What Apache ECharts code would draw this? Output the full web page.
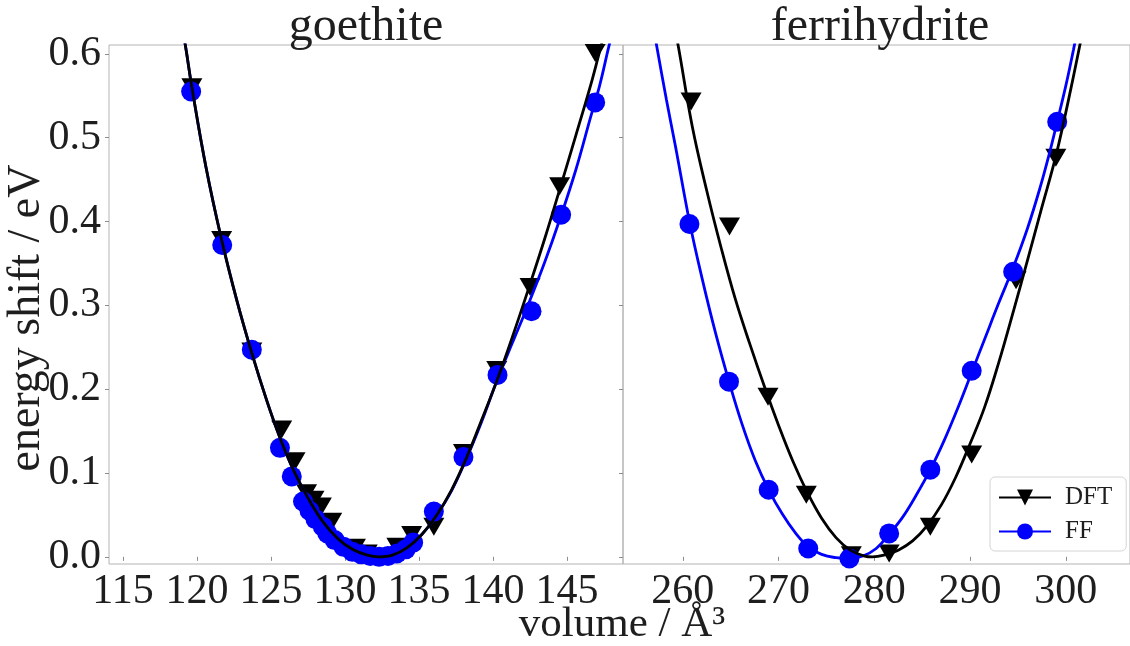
<!DOCTYPE html>
<html>
<head>
<meta charset="utf-8">
<script src="https://cdn.jsdelivr.net/npm/echarts@6/dist/echarts.min.js"></script>
<style>
  html, body { margin: 0; padding: 0; background: #fff; }
  #chart { width: 1130px; height: 646px; }
</style>
</head>
<body>
<div id="chart"></div>
<script>
// ---- goethite: computed points (volume / Å^3, energy shift / eV) ----
const goeDftV = [119.65, 121.66, 123.7, 125.72, 126.62, 127.4, 127.9, 128.4, 129.1, 130.7, 131.5, 132.3, 133.5, 134.5, 136.0, 138.0, 140.25, 142.5, 144.5, 146.9];
const goeDftE = [0.560, 0.378, 0.245, 0.152, 0.114, 0.076, 0.068, 0.060, 0.042, 0.011, 0.004, 0.000, 0.012, 0.026, 0.036, 0.124, 0.223, 0.322, 0.442, 0.601];
const goeFfV = [119.6, 121.7, 123.7, 125.6, 126.4, 127.16, 127.6, 128.0, 128.5, 128.8, 129.3, 129.9, 130.5, 131.1, 131.7, 132.3, 132.9, 133.5, 134.1, 134.6, 136.0, 138.0, 140.3, 142.6, 144.6, 146.9];
const goeFfE = [0.555, 0.372, 0.247, 0.130, 0.096, 0.066, 0.055, 0.045, 0.036, 0.028, 0.020, 0.012, 0.006, 0.003, 0.001, 0.000, 0.001, 0.004, 0.009, 0.017, 0.054, 0.119, 0.217, 0.293, 0.408, 0.542];

// ---- goethite: fitted equation-of-state curves ----
const goeDftFitV = [118.6, 119.2, 119.65, 120.6, 121.66, 122.7, 123.7, 124.7, 125.6, 126.5, 127.5, 128.5, 129.5, 130.5, 131.5, 132.3, 133.2, 134.2, 135.2, 136.2, 137.2, 138.2, 139.2, 140.3, 141.3, 142.4, 143.5, 144.5, 145.6, 146.6, 147.1, 147.6];
const goeDftFitE = [0.670, 0.611, 0.560, 0.465, 0.378, 0.305, 0.243, 0.187, 0.142, 0.104, 0.070, 0.042, 0.022, 0.009, 0.002, 0.000, 0.002, 0.011, 0.027, 0.050, 0.080, 0.118, 0.162, 0.212, 0.262, 0.320, 0.380, 0.438, 0.503, 0.563, 0.596, 0.630];
const goeFfFitV = [118.6, 119.2, 119.65, 120.6, 121.66, 122.7, 123.7, 124.7, 125.6, 126.5, 127.5, 128.5, 129.5, 130.5, 131.5, 132.3, 133.2, 134.2, 135.2, 136.2, 137.2, 138.2, 139.2, 140.3, 141.3, 142.4, 143.5, 144.5, 145.6, 146.6, 147.2, 147.8, 148.4];
const goeFfFitE = [0.670, 0.611, 0.560, 0.465, 0.378, 0.305, 0.243, 0.187, 0.142, 0.104, 0.070, 0.042, 0.022, 0.009, 0.002, 0.000, 0.002, 0.011, 0.027, 0.050, 0.079, 0.117, 0.160, 0.212, 0.255, 0.302, 0.352, 0.402, 0.462, 0.525, 0.562, 0.607, 0.650];

// ---- ferrihydrite: computed points ----
const ferDftV = [260.87, 264.88, 268.9, 272.9, 277.6, 281.55, 285.85, 290.17, 294.8, 298.96];
const ferDftE = [0.543, 0.394, 0.191, 0.074, 0.002, 0.004, 0.036, 0.122, 0.330, 0.476];
const ferFfV = [260.7, 264.83, 268.97, 273.1, 277.4, 281.55, 285.85, 290.17, 294.5, 299.1];
const ferFfE = [0.397, 0.209, 0.080, 0.010, -0.002, 0.028, 0.104, 0.222, 0.340, 0.519];

// ---- ferrihydrite: fitted equation-of-state curves ----
const ferDftFitV = [258.0, 259.5, 261.0, 262.5, 264.0, 265.5, 267.0, 268.5, 270.0, 271.5, 273.0, 274.5, 276.0, 277.5, 279.0, 279.8, 281.0, 282.5, 284.0, 285.5, 287.0, 288.5, 290.0, 291.5, 293.0, 294.5, 296.0, 297.5, 299.0, 300.5, 302.0];
const ferDftFitE = [0.700, 0.611, 0.513, 0.437, 0.369, 0.307, 0.254, 0.204, 0.157, 0.114, 0.077, 0.046, 0.023, 0.008, 0.001, 0.000, 0.002, 0.008, 0.019, 0.037, 0.062, 0.095, 0.135, 0.178, 0.232, 0.292, 0.354, 0.417, 0.480, 0.557, 0.641];
const ferFfFitV = [256.5, 257.25, 258.3, 259.3, 260.7, 262.0, 263.4, 264.83, 266.2, 267.6, 268.97, 270.4, 271.8, 273.1, 274.5, 276.0, 277.4, 278.8, 280.2, 281.55, 283.0, 284.4, 285.85, 287.3, 288.7, 290.17, 291.6, 293.0, 294.5, 296.0, 297.3, 298.3, 299.1, 300.0, 300.8, 301.5];
const ferFfFitE = [0.660, 0.611, 0.545, 0.486, 0.400, 0.333, 0.268, 0.209, 0.158, 0.114, 0.080, 0.051, 0.028, 0.012, 0.003, -0.001, -0.002, 0.001, 0.010, 0.027, 0.048, 0.074, 0.104, 0.139, 0.177, 0.220, 0.262, 0.303, 0.345, 0.392, 0.440, 0.482, 0.519, 0.562, 0.605, 0.645];

// ---- tick labels ----
const energyTicks = [0.0, 0.1, 0.2, 0.3, 0.4, 0.5, 0.6];
const goeVolumeTicks = [115, 120, 125, 130, 135, 140, 145];
const ferVolumeTicks = [260, 270, 280, 290, 300];

const panelTitles = ['goethite', 'ferrihydrite'];
const seriesNames = ['DFT', 'FF'];
const xName = 'volume / Å³';
const yName = 'energy shift / eV';

const SERIF = '"Liberation Serif", "DejaVu Serif", serif';
const TXT = '#1e1e1e';
const FRAME = '#b4b4b4';
const BLUE = '#0000ff';
const BLACK = '#000000';

const pairs = (xs, ys) => xs.map((x, i) => [x, ys[i]]);

function xAxisFor(grid, min, max, ticks) {
  return {
    gridIndex: grid, type: 'value', min: min, max: max,
    axisLine: { show: false },
    splitLine: { show: false },
    axisTick: { show: true, customValues: ticks, length: 4, lineStyle: { color: '#8c8c8c' } },
    axisLabel: { customValues: ticks, fontFamily: SERIF, fontSize: 42, color: TXT, margin: 7 }
  };
}
function yAxisFor(grid, showLabels) {
  return {
    gridIndex: grid, type: 'value', min: -0.0085, max: 0.6105,
    axisLine: { show: false },
    splitLine: { show: false },
    axisTick: { show: true, customValues: energyTicks, length: 4, lineStyle: { color: '#8c8c8c' } },
    axisLabel: {
      show: showLabels, customValues: energyTicks, fontFamily: SERIF, fontSize: 42,
      color: TXT, margin: 8, formatter: v => Number(v).toFixed(1)
    }
  };
}

function fitLine(name, grid, data, color, symbol, z) {
  return {
    type: 'line', name: name, xAxisIndex: grid, yAxisIndex: grid, data: data,
    smooth: 0.4, showSymbol: false,
    symbol: symbol, symbolRotate: symbol === 'triangle' ? 180 : 0,
    symbolSize: symbol === 'triangle' ? [20, 18] : 19,
    lineStyle: { color: color, width: 2.8 }, itemStyle: { color: color },
    silent: true, z: z, clip: true
  };
}
function points(name, grid, data, color, symbol, z) {
  return {
    type: 'scatter', name: name, xAxisIndex: grid, yAxisIndex: grid, data: data,
    symbol: symbol, symbolRotate: symbol === 'triangle' ? 180 : 0,
    symbolSize: symbol === 'triangle' ? [21, 18] : 20,
    itemStyle: { color: color, opacity: 1 }, silent: true, z: z
  };
}

const chart = echarts.init(document.getElementById('chart'), null, { renderer: 'canvas' });

chart.setOption({
  animation: false,
  backgroundColor: '#ffffff',
  grid: [
    { left: 109, top: 45, width: 514, height: 519, show: true, borderColor: FRAME, borderWidth: 1, backgroundColor: 'transparent' },
    { left: 623, top: 45, width: 512, height: 519, show: true, borderColor: FRAME, borderWidth: 1, backgroundColor: 'transparent' }
  ],
  xAxis: [
    xAxisFor(0, 114.05, 148.78, goeVolumeTicks),
    xAxisFor(1, 253.76, 306.7, ferVolumeTicks)
  ],
  yAxis: [yAxisFor(0, true), yAxisFor(1, false)],
  legend: {
    data: seriesNames, orient: 'vertical', left: 990, top: 477,
    itemWidth: 52, itemHeight: 20, itemGap: 9,
    padding: [8, 14, 7, 8],
    backgroundColor: '#ffffff', borderColor: '#d4d4d4', borderWidth: 1, borderRadius: 5,
    textStyle: { fontFamily: SERIF, fontSize: 25, color: TXT, padding: [0, 0, 0, 9] },
    selectedMode: false
  },
  graphic: [
    { type: 'text', x: 366, y: 27, silent: true,
      style: { text: panelTitles[0], font: '48px ' + SERIF, fill: TXT, align: 'center', verticalAlign: 'middle', textAlign: 'center', textVerticalAlign: 'middle' } },
    { type: 'text', x: 880, y: 27, silent: true,
      style: { text: panelTitles[1], font: '48px ' + SERIF, fill: TXT, align: 'center', verticalAlign: 'middle', textAlign: 'center', textVerticalAlign: 'middle' } },
    { type: 'text', x: 622, y: 625, silent: true,
      style: { text: xName, font: '43px ' + SERIF, fill: TXT, align: 'center', verticalAlign: 'middle', textAlign: 'center', textVerticalAlign: 'middle' } },
    { type: 'text', x: 27, y: 318, rotation: Math.PI / 2, silent: true,
      style: { text: yName, font: '46px ' + SERIF, fill: TXT, align: 'center', verticalAlign: 'middle', textAlign: 'center', textVerticalAlign: 'middle' } }
  ],
  series: [
    fitLine('DFT', 0, pairs(goeDftFitV, goeDftFitE), BLACK, 'triangle', 6),
    fitLine('FF', 0, pairs(goeFfFitV, goeFfFitE), BLUE, 'circle', 5),
    points('DFT', 0, pairs(goeDftV, goeDftE), BLACK, 'triangle', 3),
    points('FF', 0, pairs(goeFfV, goeFfE), BLUE, 'circle', 4),
    fitLine('DFT', 1, pairs(ferDftFitV, ferDftFitE), BLACK, 'triangle', 6),
    fitLine('FF', 1, pairs(ferFfFitV, ferFfFitE), BLUE, 'circle', 5),
    points('DFT', 1, pairs(ferDftV, ferDftE), BLACK, 'triangle', 3),
    points('FF', 1, pairs(ferFfV, ferFfE), BLUE, 'circle', 4)
  ]
});
</script>
</body>
</html>
